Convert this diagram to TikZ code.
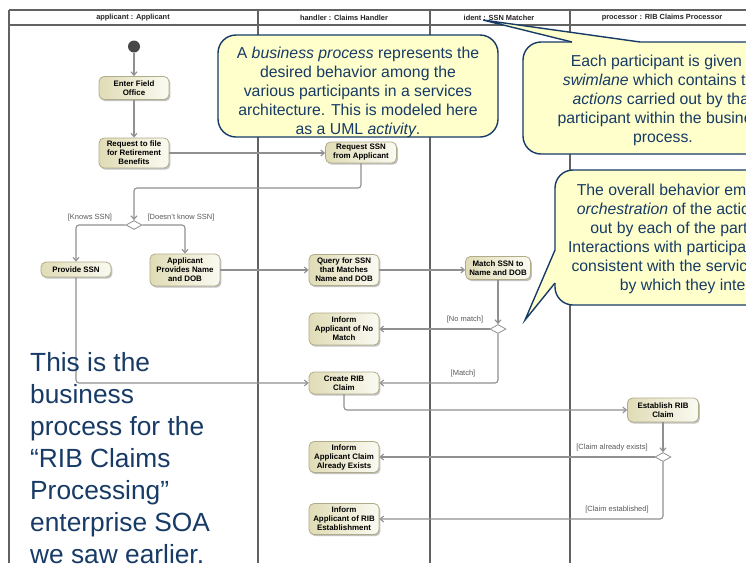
\documentclass[tikz,border=0pt]{standalone}
\usepackage{fontspec}
\setmainfont{Liberation Sans}
\usetikzlibrary{arrows.meta,shapes.geometric,shadows}
\definecolor{navy}{HTML}{173B66}
\definecolor{notefill}{HTML}{FFFFCC}
\definecolor{lanegray}{HTML}{626262}
\definecolor{flowgray}{HTML}{909090}
\definecolor{actborder}{HTML}{B0AC88}
\definecolor{actdark}{HTML}{E0DCB6}
\definecolor{actlight}{HTML}{FAFAF2}

\begin{document}
\begin{tikzpicture}[x=1pt,y=-1pt,
  lane/.style={draw=lanegray, line width=1.5pt},
  header/.style={font=\fontsize{7.4}{8.5}\selectfont\bfseries, text=black!85, inner sep=0pt},
  action/.style={rectangle, rounded corners=5pt, draw=actborder, line width=0.8pt,
    left color=actdark, right color=actlight,
    font=\fontsize{7.9}{9}\selectfont\bfseries, align=center, inner sep=1pt,
    minimum width=70pt,
    drop shadow={shadow xshift=1.4pt, shadow yshift=-1.7pt, opacity=0.4, fill=black!60}},
  decision/.style={diamond, draw=flowgray, fill=white, line width=0.8pt,
    minimum width=16pt, minimum height=9pt, inner sep=0pt},
  flow/.style={draw=flowgray, line width=1.1pt, rounded corners=3pt,
    -{Straight Barb[length=3.5pt,width=6pt]}},
  guard/.style={font=\fontsize{7.5}{9}\selectfont, text=black!65, inner sep=0pt},
  note/.style={draw=navy, line width=1.4pt, fill=notefill, rounded corners=18pt},
  noteedge/.style={draw=navy, line width=1.4pt, line join=miter},
  notetext/.style={text=navy, font=\fontsize{15.8}{19}\selectfont, align=center, inner sep=0pt},
]
\useasboundingbox (0,0) rectangle (746,563);
\clip (0,0) rectangle (746,563);
\fill[white] (0,0) rectangle (746,563);

% swimlane frame and partitions
\draw[lane] (9,10) -- (746,10);
\draw[lane] (9,25) -- (746,25);
\foreach \lx in {9,258,430,570} {\draw[lane] (\lx,10) -- (\lx,563);}

\node[header] (hApplicant) at (133,17.5) {applicant : Applicant};
\node[header] (hHandler) at (344,17.5) {handler : Claims Handler};
\node[header] (hIdent) at (499,17.5) {ident : SSN Matcher};
\node[header] (hProcessor) at (662,17.5) {processor : RIB Claims Processor};

% activity nodes
\node[circle, fill=black!72, minimum size=12pt, inner sep=0pt] (init) at (134,46.5) {};
\node[action, minimum height=23pt] (enter) at (134,88) {Enter Field\\Office};
\node[action, minimum height=30pt] (reqfile) at (134,153) {Request to file\\for Retirement\\Benefits};
\node[action, minimum width=71pt, minimum height=21pt] (reqssn) at (361,152.5) {Request SSN\\from Applicant};
\node[decision] (dec1) at (134,225) {};
\node[action, minimum height=15pt] (provide) at (76,269.5) {Provide SSN};
\node[action, minimum height=32pt] (appprov) at (185,270) {Applicant\\Provides Name\\and DOB};
\node[action, minimum height=31pt] (query) at (344,270) {Query for SSN\\that Matches\\Name and DOB};
\node[action, minimum width=65pt, minimum height=23pt] (match) at (498,268) {Match SSN to\\Name and DOB};
\node[decision] (dec2) at (498,329) {};
\node[action, minimum height=32pt] (nomatch) at (344,329) {Inform\\Applicant of No\\Match};
\node[action, minimum height=22pt] (create) at (344,383) {Create RIB\\Claim};
\node[action, minimum width=71pt, minimum height=24pt] (establish) at (663,410) {Establish RIB\\Claim};
\node[decision] (dec3) at (663,457) {};
\node[action, minimum height=31pt] (exists) at (344,457) {Inform\\Applicant Claim\\Already Exists};
\node[action, minimum height=31pt] (informest) at (344,519) {Inform\\Applicant of RIB\\Establishment};

% control flows
\coordinate (j1) at (361,188);
\draw[flow] (init) -- (enter);
\draw[flow] (enter) -- (reqfile);
\draw[flow] (reqfile.east) -- (reqfile.east -| reqssn.west);
\draw[flow] (reqssn) -- (j1) -| (dec1);
\draw[flow] (dec1.west) -| (provide);
\draw[flow] (dec1.east) -| (appprov);
\draw[flow] (provide) |- (create);
\draw[flow] (appprov) -- (query);
\draw[flow] (query.east) -- (query.east -| match.west);
\draw[flow] (match) -- (dec2);
\draw[flow] (dec2) -- (nomatch);
\draw[flow] (dec2) |- (create);
\draw[flow] (create) |- (establish);
\draw[flow] (establish) -- (dec3);
\draw[flow] (dec3) -- (exists);
\draw[flow] (dec3) |- (informest);

% guards
\node[guard] (gKnows) at (90,218) {[Knows SSN]};
\node[guard] (gDont) at (181,218) {[Doesn't know SSN]};
\node[guard] (gNoMatch) at (465,320) {[No match]};
\node[guard] (gMatch) at (463,374) {[Match]};
\node[guard] (gExists) at (612,448) {[Claim already exists]};
\node[guard] (gEstablished) at (617,510) {[Claim established]};

% notes
\draw[note] (218,35) rectangle (498,137);
\node[notetext] (noteA) at (358,92) {A \emph{business process} represents the\\desired behavior among the\\various participants in a services\\architecture. This is modeled here\\as a UML \emph{activity}.};

\draw[note] (523,42) rectangle (803,154);
\fill[notefill] (572,42) -- (483,20) -- (640,42) -- (640,48) -- (572,48) -- cycle;
\coordinate (tipB) at (483,20);
\draw[noteedge] (572,42) -- (tipB) -- (640,42);
\node[notetext] (noteB) at (663,100) {Each participant is given a\\\emph{swimlane} which contains the\\\emph{actions} carried out by that\\participant within the business\\process.};

\draw[note] (555,170) rectangle (845,305);
\fill[notefill] (555,250) -- (525,320) -- (555,283) -- (561,283) -- (561,250) -- cycle;
\coordinate (tipC) at (525,320);
\draw[noteedge] (555,250) -- (tipC) -- (555,283);
\node[notetext] (noteC) at (698,238.5) {The overall behavior embodies the\\\emph{orchestration} of the actions carried\\out by each of the participants.\\Interactions with participants must be\\consistent with the service contracts\\by which they interact.};

% summary text
\node[anchor=north west, inner sep=0pt, align=left, text=navy,
  font=\fontsize{26.3}{32}\selectfont] (summary) at (30,352)
  {This is the\\business\\process for the\\“RIB Claims\\Processing”\\enterprise SOA\\we saw earlier.};
\end{tikzpicture}
\end{document}
